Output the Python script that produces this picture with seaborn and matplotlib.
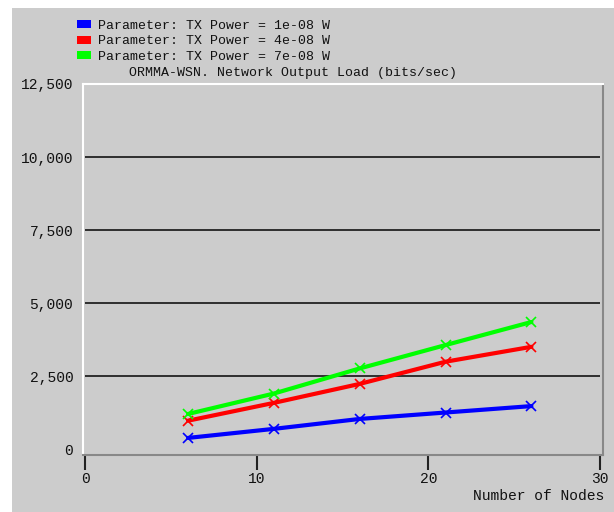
import pandas as pd
import numpy as np
import matplotlib.pyplot as plt
import seaborn as sns
from matplotlib.patches import Rectangle

# -----------------------------
# Data
# -----------------------------
nodes = [6, 11, 16, 21, 26]
load_1e08 = [380, 690, 1030, 1250, 1470]
load_4e08 = [970, 1580, 2230, 2990, 3500]
load_7e08 = [1200, 1900, 2760, 3560, 4350]

labels = ["Parameter: TX Power = 1e-08 W",
          "Parameter: TX Power = 4e-08 W",
          "Parameter: TX Power = 7e-08 W"]
colors = ["#0000ff", "#ff0000", "#00ff00"]
y_ticks = [0, 2500, 5000, 7500, 10000, 12500]
x_ticks = [0, 10, 20, 30]

df = pd.DataFrame({
    "Number of Nodes": nodes * 3,
    "Load": load_1e08 + load_4e08 + load_7e08,
    "Series": [labels[0]] * 5 + [labels[1]] * 5 + [labels[2]] * 5,
})

sns.set_style("white")
plt.rcParams["font.family"] = ["Liberation Mono", "DejaVu Sans Mono"]
bg = "#cccccc"
txt = "#111111"

fig = plt.figure(figsize=(6.14, 5.12), dpi=100)
fig.patch.set_facecolor("white")
# gray panel behind everything (white strips on left and top)
fig.add_artist(Rectangle((12 / 614, 0), 1, 1 - 8 / 512, transform=fig.transFigure,
                         facecolor=bg, edgecolor="none", zorder=-10))

ax = fig.add_axes([83 / 614, 1 - 455 / 512, 520 / 614, 371 / 512])
ax.set_facecolor(bg)

# horizontal grid lines (not at zero)
ax.hlines([v for v in y_ticks[1:-1]], 0, 30, colors="#222222", lw=1.3, zorder=1)

sns.lineplot(data=df, x="Number of Nodes", y="Load", hue="Series",
             palette=colors, marker="x", markersize=7, markeredgewidth=1.2,
             linewidth=3, legend=False, ax=ax, zorder=3)
for ln in ax.get_lines():
    ln.set_markeredgecolor(ln.get_color())

ax.set_xlim(-0.12, 30.17)
ax.set_ylim(-205, 12500)
ax.set_xticks(x_ticks)
ax.set_yticks(y_ticks)
ax.set_yticklabels([f"{v:,}" for v in y_ticks], fontsize=10.5, color=txt)
ax.set_xticklabels([str(v) for v in x_ticks], fontsize=10.5, color=txt)
ax.tick_params(axis="y", left=False, length=0, pad=7)
ax.tick_params(axis="x", bottom=True, length=11, width=1.5, color="#222222",
               pad=1.5, direction="out")
ax.set_xlabel("")
ax.set_ylabel("")

for side in ["top", "left"]:
    ax.spines[side].set_color("white")
    ax.spines[side].set_linewidth(1.5)
for side in ["right", "bottom"]:
    ax.spines[side].set_color("#888888")
    ax.spines[side].set_linewidth(1.5)

fig.text(604 / 614, 1 - 496 / 512, "Number of Nodes", ha="right", va="center",
         fontsize=10.5, color=txt)

# title
fig.text(129 / 614, 1 - 73 / 512, "ORMMA-WSN. Network Output Load (bits/sec)",
         ha="left", va="center", fontsize=9.5, color=txt)

# legend (top left)
for i, (lab, c) in enumerate(zip(labels, colors)):
    yc = 1 - (24 + i * 15.5) / 512
    fig.add_artist(Rectangle((77 / 614, yc - 4 / 512), 14 / 614, 8 / 512,
                             transform=fig.transFigure, facecolor=c, edgecolor="none"))
    fig.text(98 / 614, yc - 2 / 512, lab, ha="left", va="center", fontsize=9.5, color=txt)

plt.savefig("out.png", dpi=100, facecolor=fig.get_facecolor())
plt.close()
